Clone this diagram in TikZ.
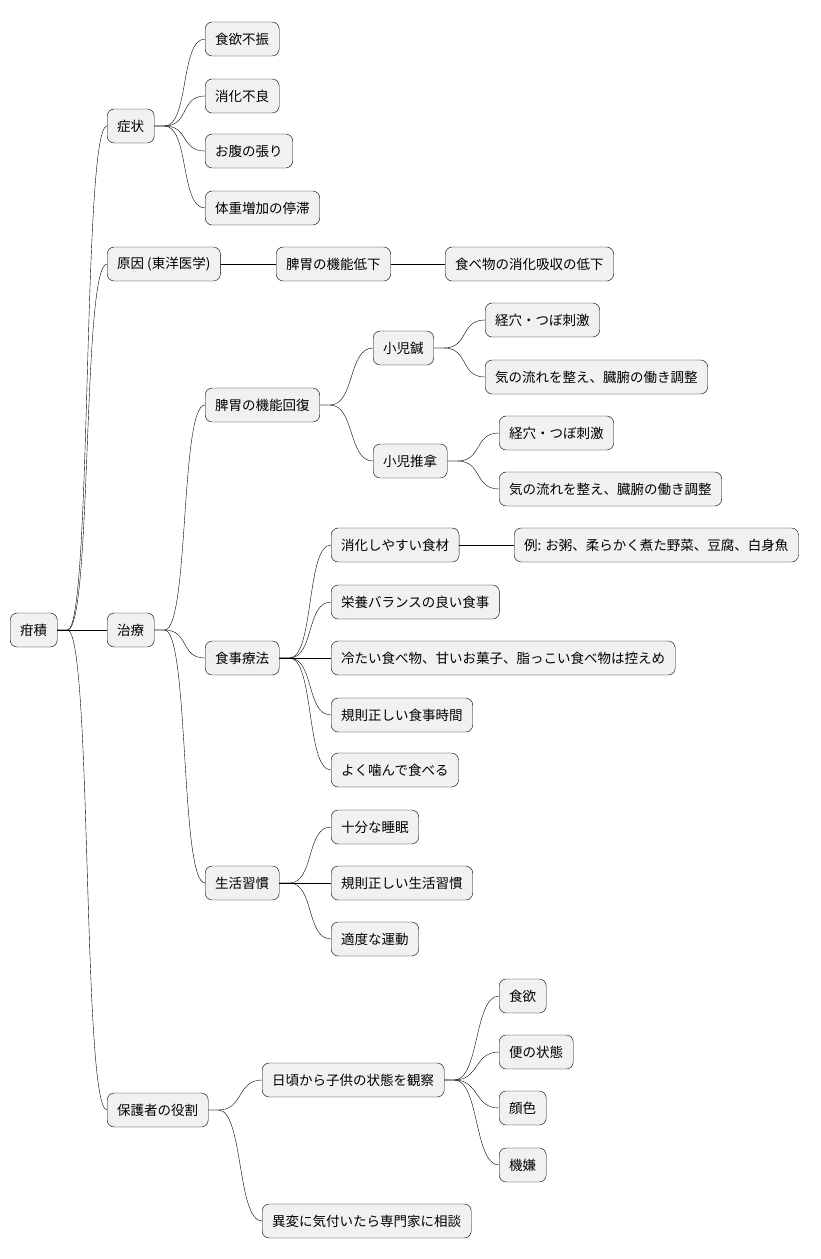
\documentclass[tikz,border=0pt]{standalone}
\usepackage{fontspec}
\setmainfont{Noto Sans CJK JP}
\definecolor{boxfill}{HTML}{F1F1F1}
\tikzset{
  link/.style={to path={(\tikztostart.east) -- ++(10pt,0) .. controls +(25pt,0) and +(-25pt,0) .. (\tikztotarget.west)}}
}
\begin{document}
\begin{tikzpicture}[x=1pt,y=-1pt,thin,
    main/.style={draw, fill=boxfill, rounded corners=7pt, anchor=west,
      minimum height=34pt, inner xsep=10pt, font=\fontsize{13.5}{16}\selectfont}]
  \useasboundingbox (0,0) rectangle (820,1259);

  \node[main] (root) at (10,630) {疳積};

  \node[main] (sym) at (107,126) {症状};
  \node[main] (cause) at (107,264) {原因 (東洋医学)};
  \node[main] (cure) at (107,630) {治療};
  \node[main] (guard) at (107,1110) {保護者の役割};

  \node[main] (s1) at (205,39) {食欲不振};
  \node[main] (s2) at (205,96) {消化不良};
  \node[main] (s3) at (205,151) {お腹の張り};
  \node[main] (s4) at (205,208) {体重増加の停滞};

  \node[main] (c1) at (276,264) {脾胃の機能低下};
  \node[main] (c2) at (445,264) {食べ物の消化吸収の低下};

  \node[main] (t1) at (205,405) {脾胃の機能回復};
  \node[main] (t11) at (373,348) {小児鍼};
  \node[main] (t111) at (485,320) {経穴・つぼ刺激};
  \node[main] (t112) at (485,377) {気の流れを整え、臓腑の働き調整};
  \node[main] (t12) at (373,461) {小児推拿};
  \node[main] (t121) at (499,433) {経穴・つぼ刺激};
  \node[main] (t122) at (499,489) {気の流れを整え、臓腑の働き調整};

  \node[main] (t2) at (205,658) {食事療法};
  \node[main] (t21) at (331,545) {消化しやすい食材};
  \node[main] (t211) at (514,545) {例: お粥、柔らかく煮た野菜、豆腐、白身魚};
  \node[main] (t22) at (331,602) {栄養バランスの良い食事};
  \node[main] (t23) at (331,658) {冷たい食べ物、甘いお菓子、脂っこい食べ物は控えめ};
  \node[main] (t24) at (331,715) {規則正しい食事時間};
  \node[main] (t25) at (331,770) {よく噛んで食べる};

  \node[main] (t3) at (205,883) {生活習慣};
  \node[main] (t31) at (331,827) {十分な睡眠};
  \node[main] (t32) at (331,883) {規則正しい生活習慣};
  \node[main] (t33) at (331,939) {適度な運動};

  \node[main] (g1) at (262,1080) {日頃から子供の状態を観察};
  \node[main] (g11) at (499,996) {食欲};
  \node[main] (g12) at (499,1052) {便の状態};
  \node[main] (g13) at (499,1108) {顔色};
  \node[main] (g14) at (499,1165) {機嫌};
  \node[main] (g2) at (262,1221) {異変に気付いたら専門家に相談};

  \foreach \a/\b in {root/sym,root/cause,root/cure,root/guard,
      sym/s1,sym/s2,sym/s3,sym/s4,
      cure/t1,t1/t11,t11/t111,t11/t112,t1/t12,t12/t121,t12/t122,
      cure/t2,t2/t21,t2/t22,t2/t23,t2/t24,t2/t25,
      cure/t3,t3/t31,t3/t32,t3/t33,
      guard/g1,g1/g11,g1/g12,g1/g13,g1/g14,guard/g2}
    \draw (\a) to[link] (\b);

  \draw (cause) -- (c1);
  \draw (c1) -- (c2);
  \draw (t21) -- (t211);
\end{tikzpicture}
\end{document}
